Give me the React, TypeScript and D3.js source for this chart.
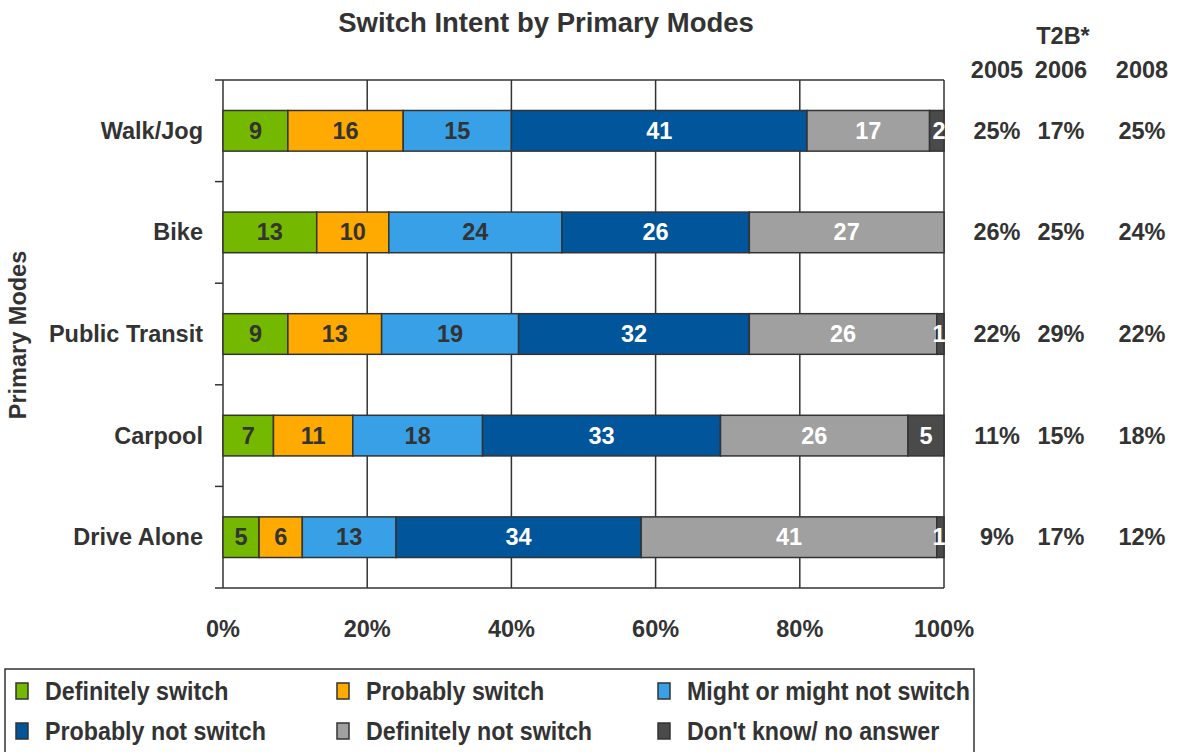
import React, { useEffect, useRef } from "react";
import * as d3 from "d3";

const categories = ["Walk/Jog", "Bike", "Public Transit", "Carpool", "Drive Alone"];
const seriesNames = [
  "Definitely switch",
  "Probably switch",
  "Might or might not switch",
  "Probably not switch",
  "Definitely not switch",
  "Don't know/ no answer",
];
const definitelySwitch = [9, 13, 9, 7, 5];
const probablySwitch = [16, 10, 13, 11, 6];
const mightSwitch = [15, 24, 19, 18, 13];
const probablyNot = [41, 26, 32, 33, 34];
const definitelyNot = [17, 27, 26, 26, 41];
const dontKnow = [2, 0, 1, 5, 1];
const seriesColors = ["#74b800", "#ffaa00", "#38a0e6", "#00559b", "#a0a0a0", "#4a4a4a"];
const labelColors = ["#333333", "#333333", "#333333", "#ffffff", "#ffffff", "#ffffff"];
const xTicks = [0, 20, 40, 60, 80, 100];
const t2bYears = ["2005", "2006", "2008"];
const t2b2005 = ["25%", "26%", "22%", "11%", "9%"];
const t2b2006 = ["17%", "25%", "29%", "15%", "17%"];
const t2b2008 = ["25%", "24%", "22%", "18%", "12%"];

const W = 1181;
const H = 752;
const FONT = "'Liberation Sans', Arial, sans-serif";
const FS = 23.5;

export default function App() {
  const ref = useRef<SVGSVGElement>(null);
  useEffect(() => {
    const svg = d3.select(ref.current);
    svg.selectAll("*").remove();
    const series = [definitelySwitch, probablySwitch, mightSwitch, probablyNot, definitelyNot, dontKnow];
    const left = 223, right = 944, top = 80, bottom = 588;
    const x = d3.scaleLinear().domain([0, 100]).range([left, right]);
    const y = d3.scaleBand<string>().domain(categories).range([top, bottom]).paddingInner(0.6).paddingOuter(0.3);
    const yOuter = d3.scaleBand<string>().domain(categories).range([top, bottom]);

    svg.append("rect").attr("width", W).attr("height", H).attr("fill", "#fff");

    const txt = (sel: any) => sel.attr("font-family", FONT).attr("font-weight", "bold").attr("fill", "#333");

    // title
    txt(svg.append("text")).attr("x", 546).attr("y", 32).attr("text-anchor", "middle")
      .attr("font-size", 27.5).text("Switch Intent by Primary Modes");

    // grid
    const g = svg.append("g");
    xTicks.forEach((t) => {
      g.append("line").attr("x1", x(t)).attr("x2", x(t)).attr("y1", top).attr("y2", bottom)
        .attr("stroke", "#333").attr("stroke-width", 1.5);
    });
    g.append("line").attr("x1", left).attr("x2", right).attr("y1", top).attr("y2", top).attr("stroke", "#333").attr("stroke-width", 1.5);
    g.append("line").attr("x1", left).attr("x2", right).attr("y1", bottom).attr("y2", bottom).attr("stroke", "#333").attr("stroke-width", 1.5);
    const yTickPos = categories.map((c) => yOuter(c)!).concat([bottom]);
    yTickPos.forEach((p) => {
      g.append("line").attr("x1", left - 8).attr("x2", left).attr("y1", p).attr("y2", p).attr("stroke", "#333").attr("stroke-width", 1.5);
    });

    const cx = [997, 1061, 1142];
    categories.forEach((c, i) => {
      let acc = 0;
      const cy = y(c)! + y.bandwidth() / 2 + 8;
      series.forEach((s, k) => {
        const v = s[i];
        const x0 = x(acc), x1 = x(acc + v);
        acc += v;
        if (v <= 0) return;
        g.append("rect").attr("x", x0).attr("y", y(c)!).attr("width", x1 - x0).attr("height", y.bandwidth())
          .attr("fill", seriesColors[k]).attr("stroke", "#333").attr("stroke-width", 1.5);
        const tx = v <= 2 ? x1 - 5 : (x0 + x1) / 2;
        txt(g.append("text")).attr("x", tx).attr("y", cy)
          .attr("text-anchor", "middle").attr("font-size", FS).attr("fill", labelColors[k]).text(String(v));
      });
      txt(svg.append("text")).attr("x", 203).attr("y", cy).attr("text-anchor", "end")
        .attr("font-size", FS).text(c);
      [t2b2005, t2b2006, t2b2008].forEach((col, j) => {
        txt(svg.append("text")).attr("x", cx[j]).attr("y", cy).attr("text-anchor", "middle")
          .attr("font-size", FS).text(col[i]);
      });
    });

    // T2B header
    txt(svg.append("text")).attr("x", 1063).attr("y", 44).attr("text-anchor", "middle")
      .attr("font-size", FS).text("T2B*");
    cx.forEach((c, j) => {
      txt(svg.append("text")).attr("x", c).attr("y", 78).attr("text-anchor", "middle")
        .attr("font-size", FS).text(t2bYears[j]);
    });

    // x tick labels
    xTicks.forEach((t) => {
      txt(svg.append("text")).attr("x", x(t)).attr("y", 637).attr("text-anchor", "middle")
        .attr("font-size", FS).text(`${t}%`);
    });

    // y axis title
    txt(svg.append("text")).attr("transform", "translate(26,335) rotate(-90)").attr("text-anchor", "middle")
      .attr("font-size", FS).text("Primary Modes");

    // legend
    svg.append("rect").attr("x", 5).attr("y", 669).attr("width", 969).attr("height", 100)
      .attr("fill", "#fff").attr("stroke", "#333").attr("stroke-width", 1.5);
    seriesNames.forEach((n, k) => {
      const col = k % 3, row = Math.floor(k / 3);
      const lx = [16, 337, 658][col];
      const ly = [691, 731][row];
      svg.append("rect").attr("x", lx).attr("y", ly - 8).attr("width", 12).attr("height", 16)
        .attr("fill", seriesColors[k]).attr("stroke", "#333").attr("stroke-width", 1.5);
      const t = txt(svg.append("text")).attr("x", lx + 29).attr("y", ly + 9)
        .attr("font-size", 25).text(n);
      const node = t.node() as SVGTextElement;
      const len = node.getComputedTextLength();
      t.attr("textLength", len * 0.93).attr("lengthAdjust", "spacingAndGlyphs");
    });
  }, []);
  return <svg ref={ref} width={W} height={H} style={{ position: "absolute", left: 0, top: 0 }} />;
}
